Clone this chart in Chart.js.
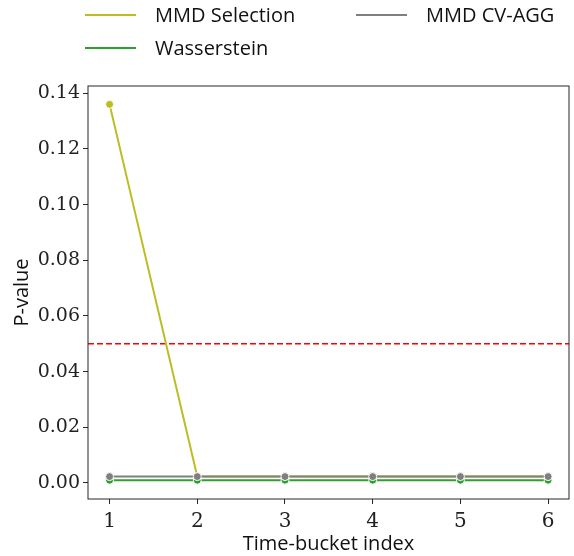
<!DOCTYPE html>
<html>
<head>
<meta charset="utf-8">
<script src="https://cdn.jsdelivr.net/npm/chart.js@4"></script>
<style>
  html, body { margin: 0; padding: 0; background: #fff; }
  #wrap { width: 574px; height: 556px; position: relative; }
</style>
</head>
<body>
<div id="wrap"><canvas id="pvalueChart"></canvas></div>
<script>
// data
const buckets = [1, 2, 3, 4, 5, 6];
const mmdSelection = [0.136, 0.0023, 0.0023, 0.0023, 0.0023, 0.0023];
const wasserstein = [0.001, 0.001, 0.001, 0.001, 0.001, 0.001];
const mmdCvAgg = [0.0023, 0.0023, 0.0023, 0.0023, 0.0023, 0.0023];
const threshold = 0.05;
const yTicks = [0, 0.02, 0.04, 0.06, 0.08, 0.1, 0.12, 0.14];

const serif = "'DejaVu Serif', serif";
const sans = "'Open Sans', 'DejaVu Sans', sans-serif";

// legend entries in the order matplotlib fills columns
const legendItems = [
  { label: "MMD Selection", color: "#bcbd22", col: 0, row: 0 },
  { label: "Wasserstein", color: "#2ca02c", col: 0, row: 1 },
  { label: "MMD CV-AGG", color: "#7f7f7f", col: 1, row: 0 },
];

function points(values) {
  return values.map((v, i) => ({ x: buckets[i], y: v }));
}

// dashed threshold, frame and legend
const extrasPlugin = {
  id: "extras",
  beforeDatasetsDraw(chart) {
    const { ctx, chartArea, scales } = chart;
    const y = scales.y.getPixelForValue(threshold);
    ctx.save();
    ctx.strokeStyle = "#ff0000";
    ctx.lineWidth = 1.5;
    ctx.setLineDash([6, 3]);
    ctx.beginPath();
    ctx.moveTo(chartArea.left, y);
    ctx.lineTo(chartArea.right, y);
    ctx.stroke();
    ctx.restore();
  },
  afterDraw(chart) {
    const { ctx, chartArea } = chart;
    ctx.save();
    ctx.strokeStyle = "#262626";
    ctx.lineWidth = 1;
    ctx.strokeRect(chartArea.left, chartArea.top, chartArea.right - chartArea.left, chartArea.bottom - chartArea.top);

    ctx.font = "20px " + sans;
    ctx.textBaseline = "middle";
    legendItems.forEach((item) => {
      const x0 = item.col === 0 ? 85 : 356;
      const y = 15 + item.row * 33;
      ctx.strokeStyle = item.color;
      ctx.lineWidth = 2;
      ctx.beginPath();
      ctx.moveTo(x0, y);
      ctx.lineTo(x0 + 51, y);
      ctx.stroke();
      ctx.fillStyle = "#111";
      ctx.fillText(item.label, x0 + 70, y + 1);
    });
    ctx.restore();
  },
};

function series(label, values, color, order) {
  return {
    label: label,
    data: points(values),
    borderColor: color,
    backgroundColor: color,
    borderWidth: 2,
    pointRadius: 4,
    pointBorderColor: "#fff",
    pointBorderWidth: 1,
    pointBackgroundColor: color,
    tension: 0,
    order: order,
  };
}

const ctx = document.getElementById("pvalueChart");
new Chart(ctx, {
  type: "line",
  data: {
    datasets: [
      series("MMD CV-AGG", mmdCvAgg, "#7f7f7f", 0),
      series("Wasserstein", wasserstein, "#2ca02c", 1),
      series("MMD Selection", mmdSelection, "#bcbd22", 2),
    ],
  },
  options: {
    responsive: true,
    maintainAspectRatio: false,
    animation: false,
    layout: { padding: { top: 86, left: 0, right: 2, bottom: 0 } },
    plugins: {
      legend: { display: false },
      tooltip: { enabled: false },
    },
    scales: {
      x: {
        type: "linear",
        min: 0.754,
        max: 6.238,
        afterBuildTicks: (scale) => {
          scale.ticks = buckets.map((v) => ({ value: v }));
        },
        afterFit: (scale) => {
          scale.height = 57;
        },
        grid: {
          drawOnChartArea: false,
          drawTicks: true,
          tickLength: 5,
          color: "#262626",
        },
        border: { display: false },
        ticks: {
          color: "#222",
          font: { family: serif, size: 20 },
          padding: 6,
          maxRotation: 0,
          callback: (v) => String(v),
        },
        title: {
          display: true,
          text: "Time-bucket index",
          color: "#111",
          font: { family: sans, size: 20 },
          padding: { top: 0, bottom: 0 },
        },
      },
      y: {
        type: "linear",
        min: -0.00575,
        max: 0.1426,
        afterBuildTicks: (scale) => {
          scale.ticks = yTicks.map((v) => ({ value: v }));
        },
        afterFit: (scale) => {
          scale.width = 88;
        },
        grid: {
          drawOnChartArea: false,
          drawTicks: true,
          tickLength: 5,
          color: "#262626",
        },
        border: { display: false },
        ticks: {
          color: "#222",
          font: { family: serif, size: 19 },
          padding: 3,
          callback: (v) => v.toFixed(2),
        },
        title: {
          display: true,
          text: "P-value",
          color: "#111",
          font: { family: sans, size: 20 },
          padding: { top: 10, bottom: 0 },
        },
      },
    },
  },
  plugins: [extrasPlugin],
});
</script>
</body>
</html>
